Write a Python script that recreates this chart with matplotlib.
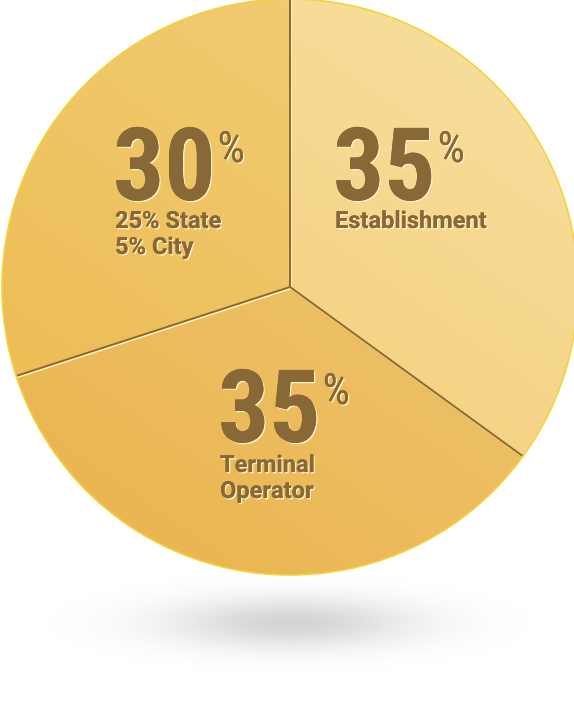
import numpy as np
import matplotlib
matplotlib.use('Agg')
import matplotlib.pyplot as plt
import matplotlib.patheffects as pe
from matplotlib.patches import Circle

# shares (counter-clockwise from 12 o'clock)
shares = [30, 35, 35]
share_labels = ['30', '35', '35']
sub_labels = [['25% State', '5% City'], ['Terminal', 'Operator'], ['Establishment']]
slice_colors = ['#efc464', '#edbf64', '#f5d488']

W, H = 574, 704
cx, cy, R = 290, 704 - 287, 288

# label block anchors (left, baseline of big number), px from bottom
label_pos = [(113, 704 - 200), (218, 704 - 442), (333, 704 - 200)]
sub_gap = [28, 30, 28]

text_col = '#876836'
emboss = [pe.withSimplePatchShadow(offset=(1, -1), shadow_rgbFace='#fff3cc', alpha=0.9),
          pe.Normal()]
big_font = ['Roboto Condensed', 'Roboto']

fig = plt.figure(figsize=(W / 100, H / 100), dpi=100)
ax = fig.add_axes([0, 0, 1, 1])

# soft floor shadow
gx = np.linspace(0, W, 300)
gy = np.linspace(560, 690, 120)
X, Y = np.meshgrid(gx, gy)
a = np.exp(-((X - 290) / 125) ** 2 - ((Y - 623) / 26) ** 2) * 0.17
rgba = np.zeros(X.shape + (4,))
rgba[..., 3] = a
ax.imshow(rgba, extent=(0, W, 704 - 690, 704 - 560), origin='upper', zorder=0)

wedges, _ = ax.pie(shares, colors=slice_colors, startangle=90, counterclock=True,
                   center=(cx, cy), radius=R, frame=True,
                   wedgeprops=dict(linewidth=0))

# gold shading: a bit lighter toward the upper right
cum = np.cumsum([0] + shares[:-1]) / sum(shares)
px = np.arange(cx - R, cx + R + 1)
py = np.arange(cy - R, cy + R + 1)
PX, PY = np.meshgrid(px, py)
t = ((PX - cx) * np.cos(np.deg2rad(55)) + (PY - cy) * np.sin(np.deg2rad(55))) / R
for w, col in zip(wedges, slice_colors):
    base = np.array(matplotlib.colors.to_rgb(col))
    img = base[None, None, :] + t[..., None] * np.array([0.01, 0.035, 0.07])[None, None, :]
    img = np.clip(img, 0, 1)
    im = ax.imshow(img, extent=(cx - R, cx + R, cy - R, cy + R), origin='lower',
                   zorder=1, interpolation='bilinear')
    im.set_clip_path(w)
    w.set_zorder(1)

# rim
ax.add_patch(Circle((cx, cy), R, fill=False, ec='#f2d43c', lw=1.2, zorder=3))

# engraved slice borders
for c in cum:
    th = np.deg2rad(90 + 360 * c)
    x2, y2 = cx + R * np.cos(th), cy + R * np.sin(th)
    ax.plot([cx + 1.3, x2 + 1.3], [cy - 1.3, y2 - 1.3], color='#fff2c6', lw=1.3, zorder=2)
    ax.plot([cx, x2], [cy, y2], color='#8c6a2c', lw=1.4, zorder=2, solid_capstyle='butt')

ax.set_xlim(0, W)
ax.set_ylim(0, H)
ax.axis('off')

r = fig.canvas.get_renderer()
for (x0, y0), big, subs, gap in zip(label_pos, share_labels, sub_labels, sub_gap):
    t = ax.text(x0, y0, big, fontsize=73, fontweight='bold', family=big_font,
                color=text_col, ha='left', va='baseline', zorder=5, path_effects=emboss)
    bb = t.get_window_extent(r).transformed(ax.transData.inverted())
    ax.text(bb.x1 + 2, y0 + 38, '%', fontsize=31, fontweight='normal', family=big_font,
            color=text_col, ha='left', va='baseline', zorder=5, path_effects=emboss)
    for i, s in enumerate(subs):
        ax.text(x0 + 2, y0 - gap - 26 * i, s, fontsize=17, fontweight='bold',
                family='Roboto', color=text_col, ha='left', va='baseline', zorder=5,
                path_effects=emboss)

fig.savefig('out.png', dpi=100, facecolor='white')
